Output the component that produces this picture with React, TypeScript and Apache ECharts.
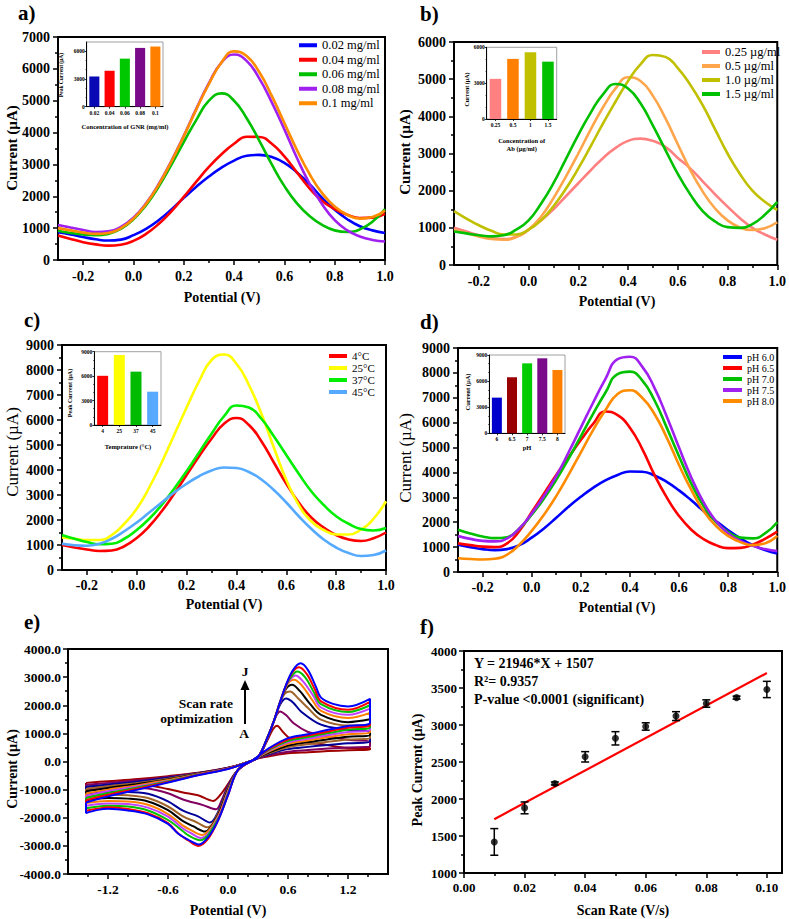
import React, { useEffect, useRef } from 'react';
import * as echarts from 'echarts';

const SERIF = "'Liberation Serif','Times New Roman',serif";

// ---------- shared potential grid for panels a-d ----------
const XS = [-0.3, -0.25, -0.2, -0.15, -0.1, -0.05, 0, 0.05, 0.1, 0.15, 0.2, 0.25, 0.3, 0.35, 0.4, 0.45, 0.5, 0.55, 0.6, 0.65, 0.7, 0.75, 0.8, 0.85, 0.9, 0.95, 1.0];

// ---------- panel a ----------
const aNames = ['0.02 mg/ml', '0.04 mg/ml', '0.06 mg/ml', '0.08 mg/ml', '0.1 mg/ml'];
const a002 = [870, 800, 720, 650, 610, 640, 780, 980, 1250, 1580, 1950, 2300, 2620, 2900, 3120, 3270, 3300, 3230, 3050, 2750, 2380, 1950, 1580, 1280, 1060, 930, 850];
const a004 = [770, 660, 560, 490, 450, 480, 600, 820, 1130, 1520, 1980, 2460, 2920, 3320, 3650, 3870, 3860, 3650, 3250, 2750, 2250, 1850, 1600, 1420, 1320, 1330, 1450];
const a006 = [920, 850, 800, 780, 820, 980, 1280, 1720, 2300, 2980, 3700, 4400, 5000, 5230, 5000, 4450, 3750, 3000, 2320, 1780, 1380, 1100, 930, 880, 960, 1200, 1600];
const a008 = [1100, 1020, 940, 880, 900, 1040, 1330, 1780, 2380, 3100, 3900, 4750, 5550, 6200, 6450, 6250, 5700, 4950, 4100, 3200, 2400, 1750, 1250, 930, 740, 630, 580];
const a010 = [1000, 930, 860, 820, 850, 1000, 1300, 1760, 2360, 3080, 3880, 4730, 5530, 6200, 6550, 6400, 5900, 5150, 4300, 3450, 2700, 2100, 1680, 1420, 1300, 1350, 1550];
const aInsetCats = ['0.02', '0.04', '0.06', '0.08', '0.1'];
const aInsetVals = [3270, 3890, 5200, 6360, 6510];

// ---------- panel b ----------
const bNames = ['0.25 µg/ml', '0.5 µg/ml', '1.0 µg/ml', '1.5 µg/ml'];
const b025 = [1000, 900, 800, 730, 700, 760, 950, 1200, 1500, 1850, 2200, 2550, 2880, 3150, 3340, 3400, 3340, 3180, 2880, 2600, 2250, 1900, 1570, 1260, 1000, 820, 680];
const b05 = [950, 860, 770, 700, 680, 750, 950, 1300, 1800, 2380, 3000, 3650, 4250, 4750, 5050, 4950, 4550, 3950, 3250, 2560, 1980, 1520, 1200, 1010, 940, 990, 1150];
const b10 = [1450, 1250, 1070, 920, 820, 820, 950, 1200, 1580, 2050, 2600, 3200, 3820, 4400, 4950, 5400, 5650, 5600, 5300, 4850, 4300, 3650, 3000, 2450, 2000, 1700, 1480];
const b15 = [900, 850, 800, 770, 800, 950, 1200, 1650, 2200, 2850, 3500, 4100, 4600, 4870, 4750, 4350, 3750, 3100, 2450, 1900, 1450, 1170, 1020, 1000, 1100, 1350, 1700];
const bInsetCats = ['0.25', '0.5', '1', '1.5'];
const bInsetVals = [3360, 5030, 5580, 4800];

// ---------- panel c ----------
const cNames = ['4°C', '25°C', '37°C', '45°C'];
const c4 = [1000, 900, 820, 760, 780, 950, 1280, 1750, 2350, 3050, 3800, 4550, 5250, 5850, 6080, 5800, 5150, 4300, 3450, 2700, 2100, 1700, 1400, 1220, 1160, 1270, 1500];
const c25 = [1300, 1250, 1200, 1200, 1400, 1850, 2450, 3300, 4300, 5400, 6500, 7550, 8400, 8620, 8250, 7400, 6250, 4900, 3600, 2600, 1950, 1600, 1420, 1420, 1620, 2050, 2750];
const c37 = [1400, 1250, 1120, 1030, 1050, 1250, 1600, 2050, 2600, 3250, 3950, 4700, 5450, 6150, 6580, 6500, 6050, 5350, 4600, 3850, 3150, 2600, 2150, 1850, 1640, 1580, 1680];
const c45 = [1050, 990, 970, 1050, 1250, 1550, 1900, 2300, 2700, 3100, 3450, 3750, 3980, 4100, 4080, 3920, 3620, 3200, 2700, 2150, 1650, 1220, 900, 680, 560, 600, 780];
const cInsetCats = ['4', '25', '37', '45'];
const cInsetVals = [6040, 8590, 6550, 4090];

// ---------- panel d ----------
const dNames = ['pH 6.0', 'pH 6.5', 'pH 7.0', 'pH 7.5', 'pH 8.0'];
const d60 = [1100, 1000, 920, 880, 920, 1080, 1380, 1750, 2180, 2620, 3020, 3380, 3680, 3900, 4040, 4030, 3880, 3620, 3280, 2880, 2450, 2050, 1680, 1350, 1080, 880, 740];
const d65 = [1150, 1080, 1020, 1000, 1150, 1650, 2400, 3150, 3900, 4600, 5300, 5950, 6450, 6300, 5800, 4950, 3900, 3000, 2250, 1700, 1320, 1080, 960, 970, 1100, 1330, 1620];
const d70 = [1700, 1550, 1430, 1360, 1400, 1750, 2300, 2950, 3700, 4550, 5450, 6350, 7200, 7950, 8050, 7700, 6900, 5800, 4650, 3550, 2650, 2000, 1600, 1380, 1350, 1550, 2000];
const d75 = [1450, 1330, 1250, 1230, 1350, 1750, 2350, 3050, 3850, 4800, 5800, 6800, 7750, 8550, 8650, 8250, 7400, 6250, 5000, 3800, 2800, 2050, 1550, 1250, 1050, 920, 840];
const d80 = [550, 520, 500, 530, 700, 1100, 1650, 2300, 3050, 3900, 4800, 5700, 6500, 7150, 7300, 7000, 6350, 5400, 4300, 3300, 2450, 1850, 1450, 1200, 1080, 1150, 1450];
const dInsetCats = ['6', '6.5', '7', '7.5', '8'];
const dInsetVals = [4100, 6430, 8040, 8620, 7280];

// ---------- panel e (cyclic voltammograms A..J, [potential, current]) ----------
const cvA = [[-1.42, -760], [-1.2, -700], [-0.9, -620], [-0.6, -520], [-0.3, -400], [0, -220], [0.2, -20], [0.3, 150], [0.4, 800], [0.45, 1150], [0.49, 1270], [0.55, 1050], [0.62, 820], [0.75, 680], [0.93, 620], [1.2, 480], [1.42, 480], [1.42, 420], [1.2, 400], [1.0, 370], [0.8, 330], [0.6, 290], [0.4, 180], [0.25, 50], [0.1, -300], [0, -800], [-0.08, -1200], [-0.15, -1400], [-0.3, -1200], [-0.45, -1100], [-0.6, -980], [-0.8, -850], [-1.0, -830], [-1.2, -860], [-1.42, -900], [-1.42, -760]];
const cvB = [[-1.42, -830], [-1.2, -760], [-0.9, -670], [-0.6, -550], [-0.3, -410], [0, -225], [0.2, -20], [0.3, 150], [0.4, 850], [0.46, 1450], [0.52, 1780], [0.58, 1650], [0.66, 1350], [0.8, 1050], [0.93, 950], [1.2, 770], [1.42, 700], [1.42, 530], [1.2, 500], [1.0, 460], [0.8, 410], [0.6, 350], [0.4, 210], [0.25, 50], [0.1, -300], [0, -850], [-0.06, -1350], [-0.12, -1700], [-0.25, -1550], [-0.45, -1350], [-0.6, -1130], [-0.8, -960], [-1.0, -930], [-1.2, -960], [-1.42, -1000], [-1.42, -830]];
const cvC = [[-1.42, -900], [-1.2, -820], [-0.9, -710], [-0.6, -580], [-0.3, -420], [0, -230], [0.2, -20], [0.3, 150], [0.4, 880], [0.46, 1450], [0.52, 2020], [0.58, 2240], [0.65, 2100], [0.73, 1780], [0.93, 1310], [1.2, 1130], [1.42, 1020], [1.42, 700], [1.2, 650], [1.0, 590], [0.8, 520], [0.6, 440], [0.4, 250], [0.25, 50], [0.1, -300], [0, -900], [-0.1, -1800], [-0.18, -2170], [-0.3, -1950], [-0.45, -1750], [-0.6, -1420], [-0.8, -1150], [-1.0, -1080], [-1.2, -1080], [-1.42, -1150], [-1.42, -900]];
const cvD = [[-1.42, -980], [-1.2, -880], [-0.9, -760], [-0.6, -610], [-0.3, -430], [0, -235], [0.2, -20], [0.3, 150], [0.4, 890], [0.46, 1450], [0.52, 2080], [0.57, 2420], [0.62, 2490], [0.7, 2250], [0.8, 1900], [0.93, 1490], [1.2, 1280], [1.42, 1300], [1.42, 830], [1.2, 780], [1.0, 700], [0.8, 610], [0.6, 510], [0.4, 280], [0.25, 50], [0.1, -300], [0, -950], [-0.1, -1850], [-0.2, -2340], [-0.32, -2150], [-0.45, -1950], [-0.6, -1600], [-0.8, -1300], [-1.0, -1200], [-1.2, -1180], [-1.42, -1260], [-1.42, -980]];
const cvE = [[-1.42, -1060], [-1.2, -940], [-0.9, -800], [-0.6, -640], [-0.3, -440], [0, -240], [0.2, -20], [0.3, 150], [0.4, 890], [0.46, 1450], [0.52, 2100], [0.58, 2580], [0.64, 2730], [0.72, 2500], [0.82, 2050], [0.93, 1660], [1.2, 1400], [1.42, 1500], [1.42, 950], [1.2, 880], [1.0, 790], [0.8, 690], [0.6, 570], [0.4, 310], [0.25, 50], [0.1, -300], [0, -1000], [-0.1, -1900], [-0.23, -2490], [-0.35, -2300], [-0.45, -2120], [-0.6, -1730], [-0.8, -1420], [-1.0, -1320], [-1.2, -1300], [-1.42, -1380], [-1.42, -1060]];
const cvF = [[-1.42, -1140], [-1.2, -1000], [-0.9, -840], [-0.6, -660], [-0.3, -450], [0, -245], [0.2, -20], [0.3, 150], [0.4, 890], [0.46, 1450], [0.52, 2100], [0.58, 2650], [0.62, 2850], [0.66, 2910], [0.74, 2700], [0.84, 2200], [0.93, 1800], [1.2, 1545], [1.42, 1730], [1.42, 1050], [1.2, 970], [1.0, 870], [0.8, 750], [0.6, 630], [0.4, 340], [0.25, 50], [0.1, -300], [0, -1050], [-0.1, -1950], [-0.26, -2610], [-0.38, -2420], [-0.45, -2280], [-0.6, -1870], [-0.8, -1540], [-1.0, -1420], [-1.2, -1400], [-1.42, -1480], [-1.42, -1140]];
const cvG = [[-1.42, -1220], [-1.2, -1060], [-0.9, -880], [-0.6, -690], [-0.3, -460], [0, -250], [0.2, -20], [0.3, 150], [0.4, 895], [0.46, 1450], [0.52, 2100], [0.58, 2680], [0.63, 2950], [0.675, 3060], [0.75, 2850], [0.85, 2350], [0.93, 1920], [1.2, 1660], [1.42, 1880], [1.42, 1130], [1.2, 1050], [1.0, 940], [0.8, 810], [0.6, 680], [0.4, 370], [0.25, 50], [0.1, -300], [0, -1100], [-0.1, -2000], [-0.27, -2720], [-0.38, -2530], [-0.45, -2380], [-0.6, -1960], [-0.8, -1640], [-1.0, -1510], [-1.2, -1490], [-1.42, -1570], [-1.42, -1220]];
const cvH = [[-1.42, -1300], [-1.2, -1120], [-0.9, -920], [-0.6, -710], [-0.3, -470], [0, -255], [0.2, -20], [0.3, 150], [0.4, 900], [0.46, 1450], [0.52, 2100], [0.58, 2700], [0.64, 3050], [0.69, 3200], [0.77, 3000], [0.86, 2450], [0.93, 2040], [1.2, 1760], [1.42, 2000], [1.42, 1220], [1.2, 1130], [1.0, 1010], [0.8, 870], [0.6, 730], [0.4, 400], [0.25, 50], [0.1, -300], [0, -1150], [-0.1, -2050], [-0.28, -2800], [-0.4, -2620], [-0.45, -2480], [-0.6, -2080], [-0.8, -1740], [-1.0, -1600], [-1.2, -1570], [-1.42, -1660], [-1.42, -1300]];
const cvI = [[-1.42, -1380], [-1.2, -1180], [-0.9, -960], [-0.6, -730], [-0.3, -480], [0, -260], [0.2, -20], [0.3, 150], [0.4, 900], [0.46, 1450], [0.52, 2100], [0.58, 2710], [0.65, 3200], [0.71, 3350], [0.79, 3100], [0.87, 2550], [0.93, 2140], [1.2, 1840], [1.42, 2120], [1.42, 1300], [1.2, 1200], [1.0, 1070], [0.8, 920], [0.6, 780], [0.4, 420], [0.25, 50], [0.1, -300], [0, -1200], [-0.1, -2100], [-0.2, -2750], [-0.3, -3000], [-0.4, -2800], [-0.5, -2550], [-0.6, -2190], [-0.8, -1840], [-1.0, -1690], [-1.2, -1630], [-1.3, -1680], [-1.42, -1750], [-1.42, -1380]];
const cvJ = [[-1.42, -1460], [-1.2, -1240], [-0.9, -1000], [-0.6, -750], [-0.3, -490], [0, -265], [0.2, -20], [0.3, 150], [0.4, 900], [0.46, 1450], [0.52, 2100], [0.58, 2720], [0.65, 3250], [0.726, 3490], [0.8, 3250], [0.88, 2650], [0.93, 2270], [1.05, 2050], [1.2, 1960], [1.42, 2230], [1.42, 1380], [1.2, 1260], [1.0, 1130], [0.8, 970], [0.6, 830], [0.4, 450], [0.25, 50], [0.1, -300], [0, -1200], [-0.1, -2100], [-0.2, -2700], [-0.29, -2950], [-0.4, -2780], [-0.5, -2560], [-0.6, -2220], [-0.8, -1880], [-1.0, -1740], [-1.2, -1680], [-1.3, -1720], [-1.42, -1830], [-1.42, -1460]];
const cvCurves = [cvA, cvB, cvC, cvD, cvE, cvF, cvG, cvH, cvI, cvJ];

// ---------- panel f ----------
const fRates = [0.01, 0.02, 0.03, 0.04, 0.05, 0.06, 0.07, 0.08, 0.09, 0.10];
const fPeaks = [1420, 1880, 2210, 2570, 2820, 2980, 3120, 3290, 3370, 3480];
const fErr = [180, 80, 20, 70, 90, 50, 60, 50, 20, 110];
const fFitX = [0.01, 0.10];
const fFitY = [1727, 3702];

// ---------- tick label lists ----------
const potMajor = [-0.2, 0, 0.2, 0.4, 0.6, 0.8, 1.0];
const potMinor = [-0.1, 0.1, 0.3, 0.5, 0.7, 0.9];
const cvMajor = [-1.2, -0.6, 0, 0.6, 1.2];
const cvMinor = [-1.4, -1.0, -0.8, -0.4, -0.2, 0.2, 0.4, 0.8, 1.0, 1.4];
const rateMajor = [0, 0.02, 0.04, 0.06, 0.08, 0.1];
const rateMinor = [0.01, 0.03, 0.05, 0.07, 0.09];
const insetTicks6 = [0, 3000, 6000];
const insetTicks9 = [0, 3000, 6000, 9000];

// ---------- styles ----------
const aColors = ['#0000ff', '#ff0000', '#00c000', '#a020f0', '#ff8c00'];
const aBarColors = ['#0a0ab4', '#ff0000', '#00c800', '#7a0a8a', '#ff8000'];
const bColors = ['#ff8080', '#ffa64d', '#c0c000', '#00c000'];
const bBarColors = ['#ff8080', '#ff8000', '#c0c000', '#00c000'];
const cColors = ['#ff0000', '#ffff00', '#00ee00', '#55aaff'];
const cBarColors = ['#ff0000', '#ffff00', '#00bb00', '#55aaff'];
const dColors = ['#0000ff', '#ff0000', '#00c000', '#a020f0', '#ff8c00'];
const dBarColors = ['#0000cc', '#990000', '#00cc00', '#7a0a8a', '#ff8000'];
const eColors = ['#a00000', '#800060', '#000099', '#a0642a', '#000000', '#ff8000', '#c040ff', '#00c000', '#ff0000', '#0000ff'];

const plain = (v: number) => String(v);

function buildOption() {
  const o: any = { animation: false, grid: [], xAxis: [], yAxis: [], series: [], legend: [], graphic: [] };
  const tickStyle = { color: '#000', width: 1.5 };

  function addPanel(rect: number[], xs: any, ys: any) {
    const gi = o.grid.length;
    o.grid.push({ left: rect[0], top: rect[1], width: rect[2], height: rect[3], show: true, borderColor: '#000', borderWidth: 2, backgroundColor: 'transparent' });
    const xi = o.xAxis.length;
    o.xAxis.push({
      type: 'value', gridIndex: gi, position: 'bottom', min: xs.min, max: xs.max, interval: xs.interval,
      axisLine: { show: true, onZero: false, lineStyle: { color: '#000', width: 2 } },
      axisTick: { show: true, customValues: xs.major, length: 5, lineStyle: tickStyle },
      axisLabel: { show: true, customValues: xs.major, formatter: xs.fmt, fontFamily: SERIF, fontWeight: 'bold', fontSize: xs.fs, color: '#000', margin: xs.margin },
      splitLine: { show: false },
    });
    o.xAxis.push({
      type: 'value', gridIndex: gi, position: 'bottom', min: xs.min, max: xs.max, interval: xs.interval,
      axisLine: { show: false, onZero: false }, axisLabel: { show: false }, splitLine: { show: false },
      axisTick: { show: true, customValues: xs.minor, length: 3, lineStyle: tickStyle },
    });
    const yi = o.yAxis.length;
    o.yAxis.push({
      type: 'value', gridIndex: gi, position: 'left', min: ys.min, max: ys.max, interval: ys.interval,
      axisLine: { show: true, onZero: false, lineStyle: { color: '#000', width: 2 } },
      axisTick: { show: true, length: 5, lineStyle: tickStyle },
      minorTick: { show: true, splitNumber: 2, length: 3, lineStyle: tickStyle },
      axisLabel: { formatter: ys.fmt || plain, fontFamily: SERIF, fontWeight: 'bold', fontSize: ys.fs, color: '#000', margin: ys.margin },
      splitLine: { show: false }, minorSplitLine: { show: false },
    });
    return { xi, yi };
  }

  function addInset(rect: number[], cats: string[], vals: number[], cols: string[], ymax: number, yt: number[]) {
    const gi = o.grid.length;
    o.grid.push({ left: rect[0], top: rect[1], width: rect[2], height: rect[3], show: true, borderColor: '#888', borderWidth: 0.8, backgroundColor: '#fff' });
    const xi = o.xAxis.length;
    o.xAxis.push({
      type: 'category', gridIndex: gi, data: cats, position: 'bottom',
      axisLine: { show: true, onZero: false, lineStyle: { color: '#000', width: 1 } },
      axisTick: { show: true, alignWithLabel: true, length: 2, lineStyle: { color: '#000', width: 0.8 } },
      axisLabel: { interval: 0, fontFamily: SERIF, fontWeight: 'bold', fontSize: 5.5, color: '#000', margin: 3 },
      splitLine: { show: false },
    });
    const yi = o.yAxis.length;
    o.yAxis.push({
      type: 'value', gridIndex: gi, min: 0, max: ymax, interval: 3000,
      axisLine: { show: true, onZero: false, lineStyle: { color: '#000', width: 1 } },
      axisTick: { show: true, customValues: yt, length: 2, lineStyle: { color: '#000', width: 0.8 } },
      minorTick: { show: true, splitNumber: 3, length: 1.2, lineStyle: { color: '#000', width: 0.6 } },
      axisLabel: { customValues: yt, formatter: plain, fontFamily: SERIF, fontWeight: 'bold', fontSize: 5.5, color: '#000', margin: 2 },
      splitLine: { show: false }, minorSplitLine: { show: false },
    });
    o.series.push({
      type: 'bar', xAxisIndex: xi, yAxisIndex: yi, barWidth: '66%',
      data: vals.map((v, i) => ({ value: v, itemStyle: { color: cols[i] } })),
    });
  }

  function addLines(ax: any, names: string[], arrays: number[][], cols: string[], width: number) {
    arrays.forEach((arr, k) => {
      o.series.push({
        type: 'line', name: names[k], xAxisIndex: ax.xi, yAxisIndex: ax.yi,
        data: XS.map((x, i) => [x, arr[i]]), smooth: true, showSymbol: false, symbol: 'none',
        lineStyle: { color: cols[k], width }, itemStyle: { color: cols[k] }, z: 3,
      });
    });
  }

  function addLegend(names: string[], left: number, top: number, fs: number, lh: number, iw: number) {
    o.legend.push({
      show: true, data: names, left, top, orient: 'vertical', icon: 'rect', itemWidth: iw, itemHeight: 4,
      itemGap: 0, padding: 0, selectedMode: false, z: 20,
      textStyle: { fontFamily: SERIF, fontSize: fs, lineHeight: lh, color: '#000' },
    });
  }

  function txt(x: number, y: number, text: string, font: string, align = 'center', rot = 0) {
    o.graphic.push({
      type: 'text', x, y, rotation: rot, z: 100,
      style: { text, font, fill: '#000', align, textAlign: align, verticalAlign: 'middle', textVerticalAlign: 'middle' },
    });
  }

  const pot = (fs: number, margin: number) => ({ min: -0.3, max: 1.0, interval: 0.1, major: potMajor, minor: potMinor, fmt: (v: number) => v.toFixed(1), fs, margin });

  // a
  const A = addPanel([58, 37, 327, 223], pot(14, 9), { min: 0, max: 7000, interval: 1000, fs: 14, margin: 8 });
  addLines(A, aNames, [a002, a004, a006, a008, a010], aColors, 2.6);
  addLegend(aNames, 299, 38, 12.5, 14.5, 18);
  addInset([86.7, 42, 76.3, 64.7], aInsetCats, aInsetVals, aBarColors, 7000, insetTicks6);

  // b
  const B = addPanel([454, 42, 326, 223], pot(14, 9), { min: 0, max: 6000, interval: 1000, fs: 14, margin: 8 });
  addLines(B, bNames, [b025, b05, b10, b15], bColors, 2.6);
  addLegend(bNames, 702, 45, 12.5, 14, 18);
  addInset([486.7, 47.3, 70, 71.7], bInsetCats, bInsetVals, bBarColors, 6000, insetTicks6);

  // c
  const C = addPanel([62, 345, 324, 225], pot(14, 8), { min: 0, max: 9000, interval: 1000, fs: 14, margin: 8 });
  addLines(C, cNames, [c4, c25, c37, c45], cColors, 2.6);
  addLegend(cNames, 329, 350, 11, 12, 18);
  addInset([94.3, 351.7, 66.7, 73.3], cInsetCats, cInsetVals, cBarColors, 9000, insetTicks9);

  // d
  const D = addPanel([458, 348, 320, 224], pot(14, 8), { min: 0, max: 9000, interval: 1000, fs: 14, margin: 8 });
  addLines(D, dNames, [d60, d65, d70, d75, d80], dColors, 2.6);
  addLegend(dNames, 723, 351.5, 10, 11, 19);
  addInset([489.3, 355, 75.7, 78.3], dInsetCats, dInsetVals, dBarColors, 9000, insetTicks9);

  // e
  const E = addPanel([68, 649, 320, 225],
    { min: -1.6, max: 1.6, interval: 0.2, major: cvMajor, minor: cvMinor, fmt: (v: number) => v.toFixed(1), fs: 13.5, margin: 8 },
    { min: -4000, max: 4000, interval: 1000, fs: 13.5, margin: 7, fmt: (v: number) => v.toFixed(1) });
  cvCurves.forEach((cv, k) => {
    o.series.push({
      type: 'line', xAxisIndex: E.xi, yAxisIndex: E.yi, data: cv, smooth: 0.35, showSymbol: false, symbol: 'none',
      lineStyle: { color: eColors[k], width: 2 }, z: 3 + k * 0.01,
    });
  });

  // f
  const F = addPanel([464, 651, 318, 222],
    { min: 0, max: 0.105, interval: 0.01, major: rateMajor, minor: rateMinor, fmt: (v: number) => v.toFixed(2), fs: 13, margin: 8 },
    { min: 1000, max: 4000, interval: 500, fs: 13, margin: 7 });
  o.series.push({
    type: 'line', xAxisIndex: F.xi, yAxisIndex: F.yi, data: fFitX.map((x, i) => [x, fFitY[i]]),
    showSymbol: false, symbol: 'none', lineStyle: { color: '#ff0000', width: 2.2 }, z: 3,
  });
  o.series.push({
    type: 'custom', xAxisIndex: F.xi, yAxisIndex: F.yi,
    data: fRates.map((x, i) => [x, fPeaks[i], fErr[i]]),
    encode: { x: 0, y: 1 }, z: 4,
    renderItem: (params: any, api: any) => {
      const x = api.value(0), y = api.value(1), e = api.value(2);
      const t = api.coord([x, y + e]);
      const b = api.coord([x, y - e]);
      const st = { stroke: '#000', lineWidth: 1.5 };
      return {
        type: 'group', children: [
          { type: 'line', shape: { x1: t[0], y1: t[1], x2: b[0], y2: b[1] }, style: st },
          { type: 'line', shape: { x1: t[0] - 4, y1: t[1], x2: t[0] + 4, y2: t[1] }, style: st },
          { type: 'line', shape: { x1: b[0] - 4, y1: b[1], x2: b[0] + 4, y2: b[1] }, style: st },
        ],
      };
    },
  });
  o.series.push({
    type: 'scatter', xAxisIndex: F.xi, yAxisIndex: F.yi, data: fRates.map((x, i) => [x, fPeaks[i]]),
    symbolSize: 7, itemStyle: { color: '#000' }, z: 5,
  });

  // ---------- texts ----------
  const lab = `bold 21px ${SERIF}`;
  txt(18, 13, 'a)', lab, 'left');
  txt(420, 14, 'b)', lab, 'left');
  txt(24, 320, 'c)', lab, 'left');
  txt(420, 322, 'd)', lab, 'left');
  txt(24, 622, 'e)', lab, 'left');
  txt(420, 627, 'f)', lab, 'left');

  const xt = `bold 14px ${SERIF}`;
  txt(222, 297, 'Potential (V)', xt);
  txt(617, 301, 'Potential (V)', xt);
  txt(224, 604, 'Potential (V)', xt);
  txt(617, 607, 'Potential (V)', xt);
  txt(228, 910, 'Potential (V)', xt);
  txt(623, 910, 'Scan Rate (V/s)', xt);

  const R = Math.PI / 2;
  txt(12, 148, 'Current (µA)', `bold 15px ${SERIF}`, 'center', R);
  txt(405, 152, 'Current (µA)', `bold 15px ${SERIF}`, 'center', R);
  txt(12, 452, 'Current (µA)', `17px ${SERIF}`, 'center', R);
  txt(405, 458, 'Current (µA)', `17px ${SERIF}`, 'center', R);
  txt(12, 769, 'Current (µA)', `bold 14px ${SERIF}`, 'center', R);
  txt(417, 770, 'Peak Current (µA)', `bold 14px ${SERIF}`, 'center', R);

  // inset texts
  const it = `bold 5.5px ${SERIF}`;
  const itt = `bold 6.5px ${SERIF}`;
  txt(61, 75, 'Peak Current (µA)', it, 'center', R);
  txt(125, 126, 'Concentration of GNR (mg/ml)', itt);
  txt(466.7, 89.5, 'Current (µA)', `bold 6px ${SERIF}`, 'center', R);
  txt(521.7, 140, 'Concentration of', itt);
  txt(521.7, 148.5, 'Ab (µg/ml)', itt);
  txt(70, 393, 'Peak Current (µA)', `bold 6px ${SERIF}`, 'center', R);
  txt(128, 446.7, 'Temprature (°C)', itt);
  txt(467.7, 392, 'Current (µA)', `bold 6.5px ${SERIF}`, 'center', R);
  txt(527, 447.5, 'pH', itt);

  // e annotation
  const an = `bold 13.5px ${SERIF}`;
  txt(233, 703, 'Scan rate', an, 'right');
  txt(233, 718, 'optimization', an, 'right');
  txt(245, 671, 'J', an);
  txt(244, 733, 'A', an);
  o.graphic.push({ type: 'line', z: 100, shape: { x1: 245, y1: 724, x2: 245, y2: 688 }, style: { stroke: '#000', lineWidth: 2 } });
  o.graphic.push({ type: 'polygon', z: 100, shape: { points: [[240.5, 690], [249.5, 690], [245, 680]] }, style: { fill: '#000' } });

  // f annotation
  const fa = `bold 14px ${SERIF}`;
  txt(474, 663, 'Y = 21946*X + 1507', fa, 'left');
  txt(474, 681, 'R²= 0.9357', fa, 'left');
  txt(474, 699, 'P-value <0.0001 (significant)', fa, 'left');

  return o;
}

export default function App() {
  const ref = useRef<HTMLDivElement>(null);
  useEffect(() => {
    document.body.style.margin = '0';
    const chart = echarts.init(ref.current as HTMLDivElement, undefined, { renderer: 'svg' });
    chart.setOption(buildOption());
    return () => chart.dispose();
  }, []);
  return <div ref={ref} style={{ width: 789, height: 919, background: '#fff' }} />;
}
